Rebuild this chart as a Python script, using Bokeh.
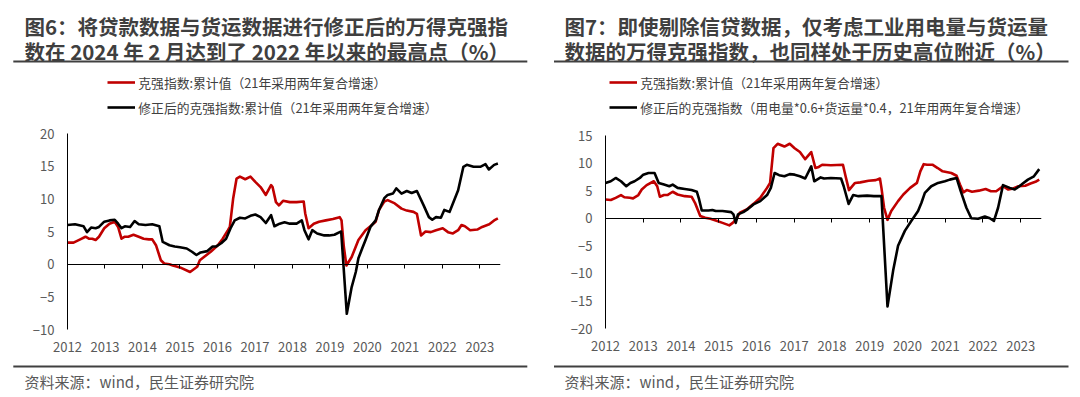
from bokeh.plotting import figure
from bokeh.models import FixedTicker, LinearAxis, Legend, LegendItem, Range1d
from bokeh.layouts import row, column
from bokeh.core.properties import value
from bokeh.embed import file_html
from bokeh.resources import INLINE

# ---------------- data ----------------
YEARS = list(range(2012, 2024))

L_RED_X = [2012.00, 2012.16, 2012.34, 2012.48, 2012.57, 2012.66, 2012.75, 2012.84, 2012.98, 2013.12,
           2013.26, 2013.35, 2013.44, 2013.53, 2013.62, 2013.76, 2013.90, 2014.03, 2014.17, 2014.26,
           2014.36, 2014.49, 2014.58, 2014.72, 2014.81, 2015.00, 2015.27, 2015.46, 2015.53, 2015.64,
           2015.82, 2016.01, 2016.14, 2016.28, 2016.33, 2016.42, 2016.51, 2016.60, 2016.74, 2016.88,
           2017.01, 2017.15, 2017.29, 2017.43, 2017.47, 2017.56, 2017.64, 2017.75, 2017.93, 2018.11,
           2018.30, 2018.34, 2018.43, 2018.57, 2018.71, 2018.89, 2019.08, 2019.26, 2019.31, 2019.37,
           2019.44, 2019.58, 2019.76, 2019.95, 2020.08, 2020.22, 2020.31, 2020.45, 2020.54, 2020.73,
           2020.91, 2021.05, 2021.23, 2021.32, 2021.43, 2021.55, 2021.69, 2021.83, 2022.01, 2022.15,
           2022.28, 2022.42, 2022.51, 2022.60, 2022.74, 2022.93, 2023.06, 2023.25, 2023.38, 2023.48]
L_RED_Y = [3.3, 3.3, 3.8, 4.2, 3.9, 3.9, 3.7, 4.2, 5.5, 6.2,
           6.5, 5.7, 3.9, 4.2, 4.2, 4.5, 4.2, 3.9, 3.8, 3.8,
           2.9, 0.6, 0.1, 0.0, -0.2, -0.5, -1.2, -0.4, 0.6, 1.1,
           1.9, 2.9, 3.9, 5.2, 5.7, 10.1, 13.1, 13.4, 13.0, 13.4,
           12.6, 11.8, 10.6, 12.1, 11.8, 9.5, 9.0, 9.7, 9.5, 9.5,
           9.6, 7.8, 5.5, 6.2, 6.5, 6.7, 6.9, 7.2, 6.7, 2.7,
           -0.2, 1.1, 3.7, 5.2, 5.8, 6.5, 8.3, 9.6, 9.8, 9.3,
           8.5, 8.2, 8.0, 7.7, 4.4, 5.0, 4.9, 5.2, 5.5, 4.9,
           4.7, 5.2, 6.0, 5.8, 5.2, 5.3, 5.7, 6.1, 6.7, 7.0]

L_BLK_X = [2012.00, 2012.20, 2012.43, 2012.52, 2012.63, 2012.75, 2012.84, 2012.98, 2013.12, 2013.26,
           2013.35, 2013.44, 2013.53, 2013.67, 2013.79, 2013.90, 2014.08, 2014.26, 2014.45, 2014.54,
           2014.72, 2014.86, 2015.00, 2015.18, 2015.32, 2015.44, 2015.55, 2015.73, 2015.87, 2015.96,
           2016.10, 2016.23, 2016.35, 2016.46, 2016.60, 2016.74, 2016.88, 2017.01, 2017.15, 2017.29,
           2017.43, 2017.52, 2017.66, 2017.79, 2017.93, 2018.11, 2018.25, 2018.32, 2018.43, 2018.53,
           2018.66, 2018.85, 2018.98, 2019.12, 2019.26, 2019.30, 2019.45, 2019.58, 2019.69, 2019.76,
           2019.86, 2019.95, 2020.08, 2020.22, 2020.31, 2020.45, 2020.54, 2020.68, 2020.77, 2020.91,
           2021.05, 2021.18, 2021.32, 2021.50, 2021.64, 2021.73, 2021.83, 2021.96, 2022.05, 2022.19,
           2022.28, 2022.42, 2022.56, 2022.65, 2022.83, 2023.01, 2023.15, 2023.24, 2023.38, 2023.48]
L_BLK_Y = [6.0, 6.1, 5.8, 4.9, 5.6, 5.5, 5.7, 6.5, 6.7, 6.8,
           6.2, 5.5, 5.8, 5.7, 6.6, 6.1, 6.0, 6.1, 5.8, 3.4,
           2.9, 2.7, 2.6, 2.4, 1.9, 1.4, 1.8, 2.0, 2.7, 2.7,
           3.2, 3.9, 5.5, 6.7, 7.1, 7.0, 7.4, 7.6, 7.2, 6.3,
           7.5, 5.8, 6.2, 6.4, 6.2, 6.2, 6.7, 5.2, 3.8, 5.2,
           4.7, 4.4, 4.4, 4.5, 4.9, 5.0, -7.6, -3.5, -1.2, 0.9,
           2.4, 3.7, 5.7, 6.7, 8.3, 10.1, 10.6, 10.8, 11.6, 10.8,
           11.2, 10.9, 11.2, 9.0, 7.2, 6.8, 7.2, 7.1, 8.3, 8.0,
           9.3, 11.3, 14.9, 15.2, 14.9, 14.9, 15.3, 14.5, 15.2, 15.4]

R_RED_X = [2012.00, 2012.14, 2012.27, 2012.41, 2012.50, 2012.64, 2012.73, 2012.87, 2012.96, 2013.09,
           2013.28, 2013.37, 2013.44, 2013.55, 2013.64, 2013.78, 2013.91, 2014.10, 2014.28, 2014.37,
           2014.51, 2014.64, 2014.78, 2014.92, 2015.10, 2015.28, 2015.37, 2015.46, 2015.56, 2015.74,
           2015.92, 2016.10, 2016.28, 2016.36, 2016.45, 2016.56, 2016.74, 2016.88, 2017.01, 2017.15,
           2017.29, 2017.45, 2017.56, 2017.65, 2017.74, 2017.97, 2018.29, 2018.36, 2018.45, 2018.61,
           2018.75, 2018.97, 2019.16, 2019.27, 2019.31, 2019.38, 2019.47, 2019.57, 2019.75, 2019.89,
           2020.07, 2020.25, 2020.34, 2020.43, 2020.52, 2020.66, 2020.80, 2020.93, 2021.16, 2021.30,
           2021.39, 2021.48, 2021.57, 2021.71, 2021.89, 2022.07, 2022.21, 2022.35, 2022.53, 2022.67,
           2022.80, 2022.94, 2023.12, 2023.26, 2023.39, 2023.49]
R_RED_Y = [3.4, 3.3, 3.7, 4.2, 3.8, 3.7, 3.6, 4.2, 5.2, 6.0,
           6.7, 5.8, 3.9, 4.2, 4.2, 4.8, 4.3, 4.0, 3.9, 2.8,
           0.4, 0.1, -0.1, -0.4, -0.85, -1.3, -0.85, -0.2, 1.0, 1.6,
           2.6, 3.7, 5.5, 6.4, 12.7, 13.5, 13.0, 13.5, 12.7, 12.0,
           10.7, 12.0, 9.1, 9.3, 9.7, 9.6, 9.7, 7.6, 5.1, 6.4,
           6.5, 6.8, 6.9, 7.2, 5.5, 1.9, -0.3, 1.3, 3.1, 4.3,
           5.5, 6.4, 8.5, 9.8, 9.7, 9.7, 9.1, 8.5, 8.2, 7.7,
           6.1, 4.7, 5.1, 4.8, 5.0, 5.3, 4.9, 4.9, 5.8, 5.2,
           5.4, 5.8, 5.9, 6.3, 6.6, 7.0]

R_BLK_X = [2012.00, 2012.14, 2012.27, 2012.41, 2012.55, 2012.66, 2012.77, 2012.91, 2013.00, 2013.14,
           2013.30, 2013.41, 2013.55, 2013.69, 2013.78, 2013.91, 2014.10, 2014.28, 2014.42, 2014.48,
           2014.55, 2014.73, 2014.83, 2014.92, 2015.10, 2015.33, 2015.39, 2015.45, 2015.51, 2015.65,
           2015.78, 2015.92, 2016.10, 2016.28, 2016.38, 2016.48, 2016.60, 2016.74, 2016.88, 2017.01,
           2017.15, 2017.29, 2017.45, 2017.53, 2017.70, 2017.79, 2017.97, 2018.24, 2018.31, 2018.44,
           2018.56, 2018.70, 2018.93, 2019.11, 2019.31, 2019.47, 2019.62, 2019.75, 2019.93, 2020.10,
           2020.28, 2020.37, 2020.46, 2020.63, 2020.81, 2020.99, 2021.12, 2021.30, 2021.41, 2021.56,
           2021.69, 2021.87, 2022.05, 2022.18, 2022.29, 2022.40, 2022.53, 2022.71, 2022.84, 2023.02,
           2023.19, 2023.35, 2023.49]
R_BLK_Y = [6.4, 6.7, 7.3, 6.7, 5.8, 6.4, 6.7, 7.3, 7.9, 8.2,
           8.2, 6.4, 6.1, 5.8, 6.1, 5.5, 5.3, 5.1, 4.8, 3.4,
           1.4, 1.4, 1.5, 1.3, 1.3, 1.1, 0.7, -0.85, 0.7, 1.1,
           1.7, 2.5, 3.1, 4.2, 5.5, 8.2, 7.8, 7.6, 8.0, 7.9,
           7.6, 7.2, 9.4, 6.7, 7.4, 7.2, 7.3, 7.2, 5.8, 2.6,
           4.2, 4.0, 4.1, 4.0, 4.0, -16.0, -9.5, -5.0, -2.3, -0.5,
           1.3, 2.8, 4.6, 5.8, 6.4, 6.7, 7.0, 7.3, 4.9, 1.9,
           0.0, -0.1, 0.3, 0.0, -0.5, 1.9, 6.0, 5.5, 5.2, 6.1,
           7.0, 7.6, 8.9]

L_YTICKS = [-10, -5, 0, 5, 10, 15, 20]
R_YTICKS = [-20, -15, -10, -5, 0, 5, 10, 15]

L_TITLE = ["图6：将贷款数据与货运数据进行修正后的万得克强指",
           "数在 2024 年 2 月达到了 2022 年以来的最高点（%）"]
R_TITLE = ["图7：即使剔除信贷数据，仅考虑工业用电量与货运量",
           "数据的万得克强指数，也同样处于历史高位附近（%）"]
L_LEGEND = ["克强指数:累计值（21年采用两年复合增速）",
            "修正后的克强指数:累计值（21年采用两年复合增速）"]
R_LEGEND = ["克强指数:累计值（21年采用两年复合增速）",
            "修正后的克强指数（用电量*0.6+货运量*0.4，21年用两年复合增速）"]
SOURCE = "资料来源：wind，民生证券研究院"

# ---------------- style / layout ----------------
FONT = "Noto Sans CJK SC"
RED = "#C00000"
BLACK = "#000000"
RULE = "#404040"
W = 540
HEAD_H, CHART_H, FOOT_H = 118, 243, 36
LW = 2.6


def deco_fig(h):
    f = figure(width=W, height=h, output_backend="svg", toolbar_location=None,
               x_range=Range1d(0, W), y_range=Range1d(h, 0),
               x_axis_type=None, y_axis_type=None, min_border=0,
               frame_align=False)
    f.outline_line_color = None
    f.xgrid.visible = False
    f.ygrid.visible = False
    return f


def make_panel(mbl, mbr, mbt, mbb, y_lo, y_hi, yticks, rx, ry, bx, by,
               title, legend_labels, lay):
    # ---- header: title, rule, legend ----
    head = deco_fig(HEAD_H)
    head.text(x=[lay["text_x"], lay["text_x"]], y=lay["title_y"], text=title,
              text_font=value(FONT), text_font_size="20.5px", text_font_style="bold",
              text_color="#3f3f3f", text_align="left", text_baseline="middle")
    head.segment(x0=[lay["rule_x"][0]], x1=[lay["rule_x"][1]],
                 y0=[lay["head_rule"]], y1=[lay["head_rule"]],
                 line_color=RULE, line_width=2)
    # legend proxies: same series, outside the header's visible range
    k_red = head.line(x=rx, y=ry, line_color=RED, line_width=LW)
    k_blk = head.line(x=bx, y=by, line_color=BLACK, line_width=LW)
    legend = Legend(items=[LegendItem(label=legend_labels[0], renderers=[k_red]),
                           LegendItem(label=legend_labels[1], renderers=[k_blk])],
                    location=(lay["legend_x"], HEAD_H - lay["legend_bottom"]),
                    orientation="vertical", padding=0, margin=0, spacing=5,
                    glyph_height=20, glyph_width=28, label_height=20, label_standoff=3,
                    label_text_font=FONT, label_text_font_size="12.8px",
                    label_text_color="#404040",
                    border_line_color=None, background_fill_alpha=0)
    head.add_layout(legend)

    # ---- chart ----
    p = figure(width=W, height=CHART_H, output_backend="svg", toolbar_location=None,
               x_range=Range1d(2012, 2023.55), y_range=Range1d(y_lo, y_hi),
               min_border_left=mbl, min_border_right=mbr,
               min_border_top=mbt, min_border_bottom=mbb, frame_align=False)
    p.outline_line_color = None
    p.xgrid.visible = False
    p.ygrid.visible = False

    ya = p.yaxis[0]
    ya.ticker = FixedTicker(ticks=yticks)
    ya.major_tick_out = 0
    ya.major_tick_in = 0
    ya.minor_tick_line_color = None
    ya.axis_line_color = "#000000"
    ya.major_label_standoff = 13
    ya.major_label_text_font = FONT
    ya.major_label_text_font_size = "13px"
    ya.major_label_text_color = "#595959"

    xa = p.xaxis[0]
    xa.ticker = FixedTicker(ticks=YEARS)
    xa.axis_line_color = None
    xa.major_tick_line_color = None
    xa.major_tick_out = 0
    xa.major_tick_in = 0
    xa.minor_tick_line_color = None
    xa.major_label_standoff = 12
    xa.major_label_text_font = FONT
    xa.major_label_text_font_size = "13px"
    xa.major_label_text_color = "#595959"

    zero_axis = LinearAxis(fixed_location=0, ticker=FixedTicker(ticks=YEARS),
                           major_label_overrides={y: "" for y in YEARS},
                           major_label_text_font_size="0px", major_label_standoff=0,
                           major_tick_out=4, major_tick_in=0,
                           minor_tick_line_color=None,
                           axis_line_color="#000000", major_tick_line_color="#000000")
    p.add_layout(zero_axis, "below")

    p.line(rx, ry, line_color=RED, line_width=LW, line_join="round")
    p.line(bx, by, line_color=BLACK, line_width=LW, line_join="round")

    # ---- footer: rule and source ----
    foot = deco_fig(FOOT_H)
    foot.segment(x0=[lay["rule_x"][0]], x1=[lay["rule_x"][1]],
                 y0=[lay["foot_rule"]], y1=[lay["foot_rule"]],
                 line_color=RULE, line_width=2)
    foot.text(x=[lay["text_x"]], y=[lay["source_y"]], text=[SOURCE],
              text_font=value(FONT), text_font_size="15px",
              text_color="#595959", text_align="left", text_baseline="middle")
    return column(head, p, foot)


left = make_panel(67, 40, 15, 32, -10, 20, L_YTICKS,
                  L_RED_X, L_RED_Y, L_BLK_X, L_BLK_Y, L_TITLE, L_LEGEND,
                  dict(text_x=24, title_y=[25, 50], rule_x=(12.8, 526.8), head_rule=61,
                       legend_x=107.3, legend_bottom=117, foot_rule=5, source_y=20))
right = make_panel(65, 39, 17, 33, -20, 15, R_YTICKS,
                   R_RED_X, R_RED_Y, R_BLK_X, R_BLK_Y, R_TITLE, R_LEGEND,
                   dict(text_x=24, title_y=[25, 50], rule_x=(13.5, 528), head_rule=61,
                        legend_x=69.2, legend_bottom=117, foot_rule=5, source_y=20))

page = row(left, right)
open("out.html", "w").write(file_html(page, INLINE))
